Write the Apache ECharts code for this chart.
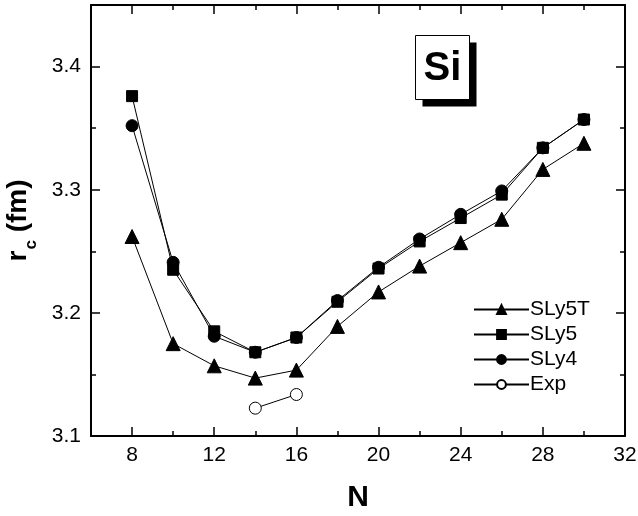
<!DOCTYPE html>
<html>
<head>
<meta charset="utf-8">
<script src="https://cdn.jsdelivr.net/npm/echarts@6/dist/echarts.min.js"></script>
<style>
  html, body { margin: 0; padding: 0; background: #fff; }
  #chart { width: 638px; height: 516px; }
</style>
</head>
<body>
<div id="chart"></div>
<script>
  const FONT = "'Liberation Sans', Arial, Helvetica, sans-serif";

  // neutron number N
  const nValues = [8, 10, 12, 14, 16, 18, 20, 22, 24, 26, 28, 30];
  const sly5tRc = [3.262, 3.175, 3.157, 3.147, 3.1535, 3.189, 3.217, 3.238, 3.257, 3.276, 3.3165, 3.3377];
  const sly5Rc = [3.376, 3.235, 3.185, 3.168, 3.180, 3.209, 3.236, 3.258, 3.277, 3.296, 3.334, 3.357];
  const sly4Rc = [3.352, 3.241, 3.181, 3.168, 3.180, 3.210, 3.237, 3.260, 3.280, 3.299, 3.334, 3.357];
  const expN = [14, 16];
  const expRc = [3.1226, 3.1337];
  const xMajorTicks = [8, 12, 16, 20, 24, 28, 32];

  function pairs(xs, ys) {
    return xs.map((x, i) => [x, ys[i]]);
  }

  const chart = echarts.init(document.getElementById("chart"));

  const axisLine = { show: true, onZero: false, lineStyle: { color: "#000", width: 2 } };
  const noLine = { show: false };
  const tickMajor = { inside: true, length: 9, lineStyle: { color: "#000", width: 1.5 } };
  const tickMinor = { show: true, splitNumber: 2, length: 5, lineStyle: { color: "#000", width: 1.5 } };

  // x axes: one carries the short ticks every 2, the other the long ticks at 8, 12, ...
  function xAxisPair(position, withLabels) {
    const shortTicks = {
      type: "value", min: 6, max: 32, interval: 2, position: position,
      axisLine: axisLine,
      axisTick: { inside: true, length: 5, lineStyle: { color: "#000", width: 1.5 } },
      splitLine: { show: false },
      axisLabel: { show: false }
    };
    const longTicks = {
      type: "value", min: 6, max: 32, interval: 2, position: position,
      axisLine: noLine,
      axisTick: { inside: true, length: 9, customValues: xMajorTicks, lineStyle: { color: "#000", width: 1.5 } },
      splitLine: { show: false },
      axisLabel: withLabels
        ? { fontSize: 21, color: "#000", margin: 9, fontFamily: FONT, customValues: xMajorTicks }
        : { show: false }
    };
    if (withLabels) {
      longTicks.name = "N";
      longTicks.nameLocation = "middle";
      longTicks.nameGap = 47;
      longTicks.nameTextStyle = { fontSize: 30, fontWeight: "bold", color: "#000", fontFamily: FONT };
    }
    return [shortTicks, longTicks];
  }

  function lineSeries(name, data, symbol, size, fill) {
    return {
      name: name,
      type: "line",
      data: data,
      symbol: symbol,
      symbolSize: size,
      showSymbol: true,
      lineStyle: { color: "#000", width: 1 },
      itemStyle: { color: fill, borderColor: "#000", borderWidth: 1 },
      emphasis: { disabled: true },
      animation: false
    };
  }

  chart.setOption({
    animation: false,
    textStyle: { fontFamily: FONT },
    grid: { left: 91, top: 5, right: 13, bottom: 80, outerBoundsMode: "none" },
    legend: {
      orient: "vertical",
      left: 468,
      top: 294,
      itemWidth: 55,
      itemHeight: 11,
      itemGap: 4,
      textStyle: { fontSize: 21, color: "#000", fontFamily: FONT, padding: [0, 0, 0, -4] },
      data: ["SLy5T", "SLy5", "SLy4", "Exp"]
    },
    xAxis: xAxisPair("bottom", true).concat(xAxisPair("top", false)),
    yAxis: [{
      type: "value",
      min: 3.1,
      max: 3.45,
      interval: 0.1,
      position: "left",
      name: "{b|r}{s|c}{b| (fm)}",
      nameLocation: "middle",
      nameRotate: 90,
      nameGap: 59,
      nameTextStyle: {
        color: "#000",
        rich: {
          b: { fontSize: 28, fontWeight: "bold", color: "#000", fontFamily: FONT },
          s: { fontSize: 17, fontWeight: "bold", color: "#000", fontFamily: FONT, verticalAlign: "bottom", padding: [0, 0, -8, 1] }
        }
      },
      axisLine: axisLine,
      axisTick: tickMajor,
      minorTick: tickMinor,
      splitLine: { show: false },
      axisLabel: {
        fontSize: 21, color: "#000", margin: 10, fontFamily: FONT,
        formatter: (v) => (v > 3.41 ? "" : v.toFixed(1))
      }
    }, {
      type: "value",
      min: 3.1,
      max: 3.45,
      interval: 0.1,
      position: "right",
      axisLine: axisLine,
      axisTick: tickMajor,
      minorTick: tickMinor,
      splitLine: { show: false },
      axisLabel: { show: false }
    }],
    series: [
      lineSeries("SLy5T", pairs(nValues, sly5tRc), "triangle", 14, "#000"),
      lineSeries("SLy5", pairs(nValues, sly5Rc), "rect", 11, "#000"),
      lineSeries("SLy4", pairs(nValues, sly4Rc), "circle", 12, "#000"),
      lineSeries("Exp", pairs(expN, expRc), "circle", 12, "#fff")
    ],
    graphic: [{
      type: "group",
      left: 415,
      top: 35,
      children: [
        { type: "rect", shape: { x: 7, y: 7, width: 54, height: 64 }, style: { fill: "#000" } },
        { type: "rect", shape: { x: 0, y: 0, width: 54, height: 64 }, style: { fill: "#fff", stroke: "#000", lineWidth: 1 } },
        {
          type: "text", x: 27, y: 33,
          style: { text: "Si", fill: "#000", font: "bold 40px " + FONT, align: "center", verticalAlign: "middle" }
        }
      ]
    }]
  });
</script>
</body>
</html>
